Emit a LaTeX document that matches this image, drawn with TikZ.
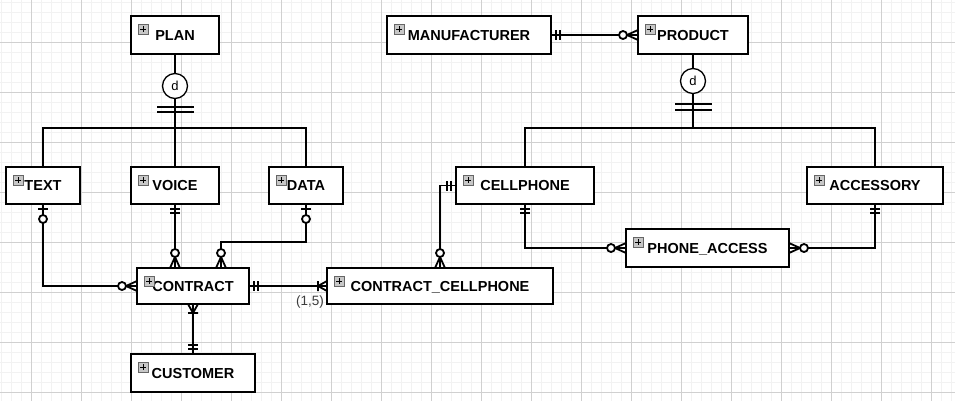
\documentclass[tikz,border=0pt]{standalone}
\usepackage{fontspec}
\setmainfont{Liberation Sans}
\usetikzlibrary{calc}
\definecolor{gridmin}{RGB}{242,242,242}
\definecolor{gridmaj}{RGB}{208,208,208}
\definecolor{lbl}{RGB}{60,60,60}
\tikzset{
 ebox/.style={draw=black, line width=1.4bp, fill=white, inner sep=0pt, outer sep=0pt,
   text height=10.5bp, text depth=0bp, font=\fontsize{14.5bp}{17bp}\selectfont\bfseries},
 conn/.style={draw=black, line width=1.8bp},
 icon/.style={draw=black!60, fill=black!22, line width=0.7bp},
 isa/.style={circle, draw=black, fill=white, line width=1.3bp, minimum size=25bp, inner sep=0pt,
   font=\fontsize{13bp}{15bp}\selectfont}
}
% name left top right bottom text
\newcommand\entity[6]{%
 \node[ebox, minimum width={(#4-#2)*1bp}, minimum height={(#5-#3)*1bp}] (#1) at ({(#2+#4)/2},{(#3+#5)/2}) {#6};
 \draw[icon] (#2+7,#3+8) rectangle (#2+17,#3+18);
 \draw[line width=1bp] (#2+12,#3+10) -- (#2+12,#3+16) (#2+9,#3+13) -- (#2+15,#3+13);
}
\newcommand\ermark[3]{\begin{scope}[shift={(#1)}, rotate=#2] #3 \end{scope}}
\newcommand\mOne{\draw[conn] (5,-5)--(5,5) (9,-5)--(9,5);}
\newcommand\mZeroOne{\draw[conn] (5,-5)--(5,5); \draw[conn,fill=white] (15,0) circle[radius=4bp];}
\newcommand\mZeroMany{\draw[conn] (0,-5)--(11,0)--(0,5) (0,0)--(11,0); \draw[conn,fill=white] (15,0) circle[radius=4bp];}
\newcommand\mOneMany{\draw[conn] (0,-5)--(9,0)--(0,5) (0,0)--(9,0) (9,-5)--(9,5);}
\begin{document}
\begin{tikzpicture}[x=1bp,y=-1bp]
\useasboundingbox (0,0) rectangle (955,401);
\fill[white] (0,0) rectangle (955,401);
\foreach \x in {1.5,11.5,...,951.5} \draw[gridmin,line width=0.8bp] (\x,0)--(\x,401);
\foreach \y in {2,12,...,392} \draw[gridmin,line width=0.8bp] (0,\y)--(955,\y);
\foreach \x in {31.5,81.5,...,931.5} \draw[gridmaj,line width=0.9bp] (\x,0)--(\x,401);
\foreach \y in {42,92,...,392} \draw[gridmaj,line width=0.9bp] (0,\y)--(955,\y);

% entities
\entity{plan}{131}{16}{219}{54}{PLAN}
\entity{text}{6}{167}{80}{204}{TEXT}
\entity{voice}{131}{167}{219}{204}{VOICE}
\entity{data}{269}{167}{343}{204}{DATA}
\entity{contract}{137}{268}{249}{304}{CONTRACT}
\entity{customer}{131}{354}{255}{392}{CUSTOMER}
\entity{cc}{327}{268}{553}{304}{CONTRACT\_CELLPHONE}
\entity{manu}{387}{16}{551}{54}{MANUFACTURER}
\entity{product}{638}{16}{748}{54}{PRODUCT}
\entity{cell}{456}{167}{594}{204}{CELLPHONE}
\entity{acc}{807}{167}{943}{204}{ACCESSORY}
\entity{pa}{626}{229}{789}{267}{PHONE\_ACCESS}

% ISA circles
\node[isa] (dplan) at (175,86) {d};
\node[isa] (dprod) at (693,81) {d};
\coordinate (isa1) at (175,128);
\coordinate (isa2) at (693,128);

% connectors
\draw[conn, line width=2.8bp] (plan.south) -- (dplan.north);
\draw[conn] (dplan.south) -- (isa1);
\draw[conn] (text.north) |- (isa1) -| (data.north);
\draw[conn] (voice.north) -- (isa1);
\draw[conn] (157,107) -- (194,107) (157,112) -- (194,112);

\draw[conn, line width=2.2bp] (product.south) -- (dprod.north);
\draw[conn] (dprod.south) -- (isa2);
\draw[conn] (cell.north) |- (isa2) -| (acc.north);
\draw[conn] (675,104) -- (712,104) (675,110) -- (712,110);

\coordinate (c1) at (voice.south |- contract.north);
\coordinate (c2) at ($(contract.north west)+(84,0)$);
\coordinate (c3) at ($(cc.north west)+(113,0)$);
\draw[conn] (text.south) |- (contract.west);
\draw[conn] (voice.south) -- (c1);
\draw[conn] (data.south) -- ++(0,38) -| (c2);
\draw[conn] (contract.east) -- (cc.west);
\draw[conn] (contract.south) -- (customer.north);
\draw[conn] (manu.east) -- (product.west);
\draw[conn] (cell.west) -| (c3);
\draw[conn] (cell.south) |- (pa.west);
\draw[conn] (acc.south) |- (pa.east);

% end markers
\ermark{text.south}{-90}{\mZeroOne}
\ermark{contract.west}{180}{\mZeroMany}
\ermark{voice.south}{-90}{\mOne}
\ermark{c1}{90}{\mZeroMany}
\ermark{data.south}{-90}{\mZeroOne}
\ermark{c2}{90}{\mZeroMany}
\ermark{contract.east}{0}{\mOne}
\ermark{cc.west}{180}{\mOneMany}
\ermark{contract.south}{-90}{\mOneMany}
\ermark{customer.north}{90}{\mOne}
\ermark{manu.east}{0}{\mOne}
\ermark{product.west}{180}{\mZeroMany}
\ermark{cell.west}{180}{\mOne}
\ermark{c3}{90}{\mZeroMany}
\ermark{cell.south}{-90}{\mOne}
\ermark{pa.west}{180}{\mZeroMany}
\ermark{acc.south}{-90}{\mOne}
\ermark{pa.east}{0}{\mZeroMany}

\node[text=lbl, inner sep=0pt, font=\fontsize{13.5bp}{15bp}\selectfont] (card) at (310,302) {(1,5)};
\end{tikzpicture}
\end{document}
